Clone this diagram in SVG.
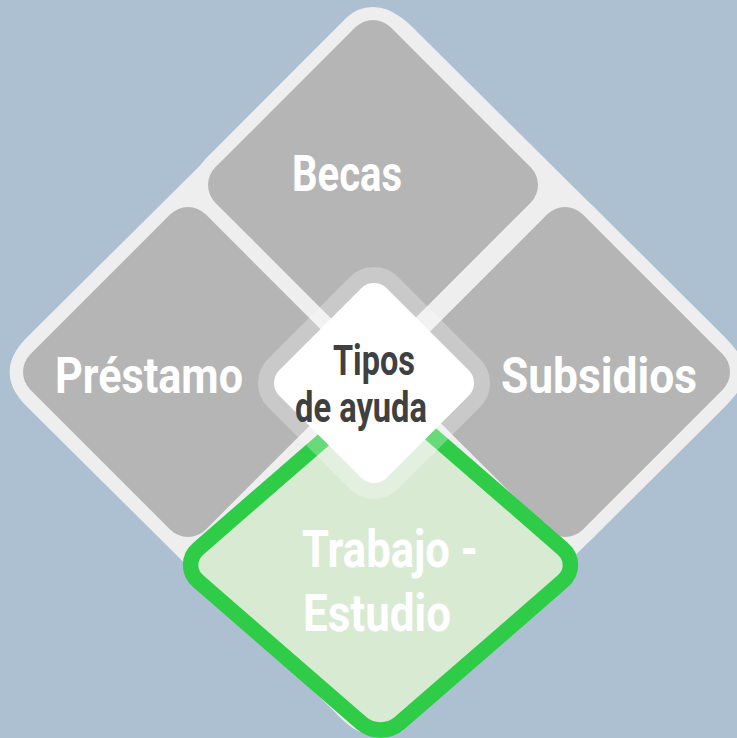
<svg xmlns="http://www.w3.org/2000/svg" width="737" height="738" viewBox="0 0 737 738">
<style>
.lbl{font-family:"Roboto","Liberation Sans",sans-serif;font-weight:bold;fill:#ffffff;}
.ctr{font-family:"Roboto","Liberation Sans",sans-serif;font-weight:bold;fill:#404040;}
.halo{fill:#eeeeee;stroke:#eeeeee;stroke-width:26;}
.gray{fill:#b5b5b5;}
</style>
<defs>
<rect id="sq" x="-124" y="-124" width="248" height="248" rx="25" ry="25"/>
</defs>
<rect width="737" height="738" fill="#adc0d1"/>
<g id="frame">
<path d="M340.7,26.1 Q376,-9 411.3,26.1 L724.7,336.9 Q760,372 724.7,407.1 L411.3,717.9 Q376,753 340.7,717.9 L27.3,407.1 Q-8,372 27.3,336.9 Z" fill="#eeeeee"/>
<use href="#sq" class="halo" transform="translate(373,185) rotate(45)"/>
<use href="#sq" class="halo" transform="translate(188,372) rotate(45)"/>
<use href="#sq" class="halo" transform="translate(565,372) rotate(45)"/>
</g>
<g id="connectors"/>
<g id="becas">
<use href="#sq" class="gray" transform="translate(373,185) rotate(45)"/>
<text class="lbl" x="292" y="191" font-size="50" textLength="110" lengthAdjust="spacingAndGlyphs">Becas</text>
</g>
<g id="prestamo">
<use href="#sq" class="gray" transform="translate(188,372) rotate(45)"/>
<text class="lbl" x="55" y="393" font-size="50" textLength="188" lengthAdjust="spacingAndGlyphs">Préstamo</text>
</g>
<g id="subsidios">
<use href="#sq" class="gray" transform="translate(565,372) rotate(45)"/>
<text class="lbl" x="501" y="393" font-size="50" textLength="196" lengthAdjust="spacingAndGlyphs">Subsidios</text>
</g>
<g id="trabajo-estudio">
<rect x="-132.5" y="-132.5" width="265" height="265" rx="25" ry="25" fill="#d9ead3" stroke="#2ecc47" stroke-width="15.5" vector-effect="non-scaling-stroke" transform="translate(380.5,565) scale(1.073,0.932) rotate(45)"/>
<text class="lbl" x="302" y="567" font-size="52" textLength="176" lengthAdjust="spacingAndGlyphs">Trabajo -</text>
<text class="lbl" x="303" y="631" font-size="52" textLength="148" lengthAdjust="spacingAndGlyphs">Estudio</text>
</g>
<g id="tipos-de-ayuda">
<rect x="-76" y="-76" width="152" height="152" rx="18" ry="18" fill="#ffffff" stroke="#ffffff" stroke-opacity="0.28" stroke-width="32" paint-order="stroke" transform="translate(374,383) rotate(45)"/>
<text class="ctr" x="333" y="375" font-size="42" textLength="82" lengthAdjust="spacingAndGlyphs">Tipos</text>
<text class="ctr" x="295" y="422" font-size="42" textLength="132" lengthAdjust="spacingAndGlyphs">de ayuda</text>
</g>
</svg>
